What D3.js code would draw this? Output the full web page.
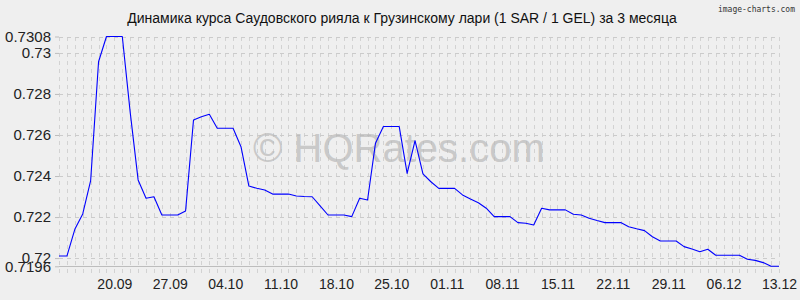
<!DOCTYPE html>
<html><head><meta charset="utf-8">
<script src="https://cdn.jsdelivr.net/npm/d3@7"></script>
<style>
html,body{margin:0;padding:0;background:#efefef;}
svg{display:block;}
</style></head>
<body>
<svg id="chart" width="800" height="300"></svg>
<script>
// ---- data ----
const titleText = "Динамика курса Саудовского рияла к Грузинскому лари (1 SAR / 1 GEL) за 3 месяца";
const startDate = "2024-09-13";
const rates = [
  0.7201, 0.7201, 0.7214, 0.72215, 0.72377, 0.72957, 0.7308, 0.7308, 0.7308, 0.7271,
  0.72381, 0.72292, 0.72299, 0.7221, 0.7221, 0.7221, 0.7223, 0.72673, 0.72689, 0.72701,
  0.72633, 0.72633, 0.72633, 0.72543, 0.72351, 0.7234, 0.72332, 0.72312, 0.72312, 0.72312,
  0.72303, 0.723, 0.72299, 0.72255, 0.7221, 0.7221, 0.7221, 0.72202, 0.72292, 0.72283,
  0.7256, 0.72641, 0.72641, 0.72641, 0.72413, 0.72572, 0.7241, 0.72372, 0.7234, 0.7234,
  0.7234, 0.72308, 0.72288, 0.7227, 0.72243, 0.72202, 0.72202, 0.72202, 0.72173, 0.7217,
  0.72161, 0.72243, 0.72235, 0.72235, 0.72235, 0.72214, 0.7221, 0.72194, 0.72183, 0.72173,
  0.72173, 0.72173, 0.72153, 0.72143, 0.72134, 0.72104, 0.72083, 0.72083, 0.72083, 0.72056,
  0.72044, 0.72031, 0.72043, 0.72014, 0.72014, 0.72014, 0.72014, 0.71994, 0.71989, 0.71978,
  0.7196, 0.7196
];
const yMin = 0.7196, yMax = 0.7308;
const yTicks = [0.7308, 0.73, 0.728, 0.726, 0.724, 0.722, 0.72, 0.7196];
const xTickLabels = ["20.09","27.09","04.10","11.10","18.10","25.10","01.11","08.11","15.11","22.11","29.11","06.12","13.12"];
const tickYear = 2024;

// ---- build ----
const parseDay = d3.timeParse("%Y-%m-%d");
const t0 = parseDay(startDate);
const dates = rates.map((_, i) => d3.timeDay.offset(t0, i));
const series = rates.map((v, i) => ({date: dates[i], value: v}));
const parseTick = d3.timeParse("%d.%m.%Y");
const xTickDates = xTickLabels.map(s => parseTick(s + "." + tickYear));

const W = 800, H = 300;
const m = {left: 59, right: 21, top: 36.5, bottom: 33.7};
const x = d3.scaleTime().domain([dates[0], dates[dates.length-1]]).range([m.left, W - m.right]);
const y = d3.scaleLinear().domain([yMin, yMax]).range([H - m.bottom, m.top]);

const svg = d3.select("#chart");
svg.append("rect").attr("width", W).attr("height", H).attr("fill", "#efefef");

const gridColor = "#d2d2d2";
// vertical dashed grid, one per day
svg.append("g").selectAll("line").data(dates).join("line")
  .attr("x1", d => Math.round(x(d)) + 0.5).attr("x2", d => Math.round(x(d)) + 0.5)
  .attr("y1", y(yMax)).attr("y2", y(yMin) + 10)
  .attr("stroke", gridColor).attr("stroke-width", 1)
  .attr("stroke-dasharray", "4,4").attr("shape-rendering", "crispEdges");

// horizontal grid at y ticks
svg.append("g").selectAll("line").data(yTicks.filter(v => v !== yMin)).join("line")
  .attr("x1", m.left).attr("x2", W - m.right)
  .attr("y1", d => Math.round(y(d)) + 0.5).attr("y2", d => Math.round(y(d)) + 0.5)
  .attr("stroke", "#cbcbcb").attr("stroke-width", 1)
  .attr("stroke-dasharray", "4,3.91").attr("shape-rendering", "crispEdges");

// bottom axis line (solid)
svg.append("line")
  .attr("x1", m.left).attr("x2", W - m.right)
  .attr("y1", Math.round(y(yMin)) + 0.5).attr("y2", Math.round(y(yMin)) + 0.5)
  .attr("stroke", "#bdbdbd").attr("shape-rendering", "crispEdges");

// y axis ticks & labels
const yAxis = d3.axisLeft(y).tickValues(yTicks).tickSize(4).tickPadding(4)
  .tickFormat(d => String(+d.toFixed(4)));
const ga = svg.append("g").attr("transform", `translate(${m.left},0)`).call(yAxis);
ga.select(".domain").remove();
ga.selectAll(".tick line").attr("stroke", "#bdbdbd");
ga.selectAll(".tick text").attr("fill", "#222")
  .style("font-family", "'Liberation Sans', Arial, sans-serif").style("font-size", "15px");

// x axis labels
const xAxis = d3.axisBottom(x).tickValues(xTickDates).tickSize(0).tickPadding(0)
  .tickFormat((d, i) => xTickLabels[i]);
const gx = svg.append("g").attr("transform", `translate(0,${H - m.bottom})`).call(xAxis);
gx.select(".domain").remove();
gx.selectAll(".tick text").attr("fill", "#222").attr("dy", "0").attr("y", 22.5)
  .style("font-family", "'Liberation Sans', Arial, sans-serif").style("font-size", "14px");

// watermark
svg.append("text").attr("x", 253).attr("y", 162)
  .attr("fill", "#b8b8b8").attr("fill-opacity", 0.7)
  .style("font-family", "'Liberation Sans', Arial, sans-serif").style("font-size", "40px")
  .text("© HQRates.com");

// line
const line = d3.line().x(d => x(d.date)).y(d => y(d.value));
svg.append("path").datum(series).attr("d", line)
  .attr("fill", "none").attr("stroke", "#0000ff").attr("stroke-width", 1.1)
  .attr("stroke-linejoin", "round");

// title
svg.append("text").attr("x", 402).attr("y", 23).attr("text-anchor", "middle")
  .attr("fill", "#111")
  .style("font-family", "'Liberation Sans', Arial, sans-serif").style("font-size", "14px")
  .text(titleText);

// credit
svg.append("text").attr("x", 795).attr("y", 12).attr("text-anchor", "end")
  .attr("fill", "#333")
  .style("font-family", "'DejaVu Sans Mono', monospace").style("font-size", "8px")
  .text("image-charts.com");
</script>
</body></html>
